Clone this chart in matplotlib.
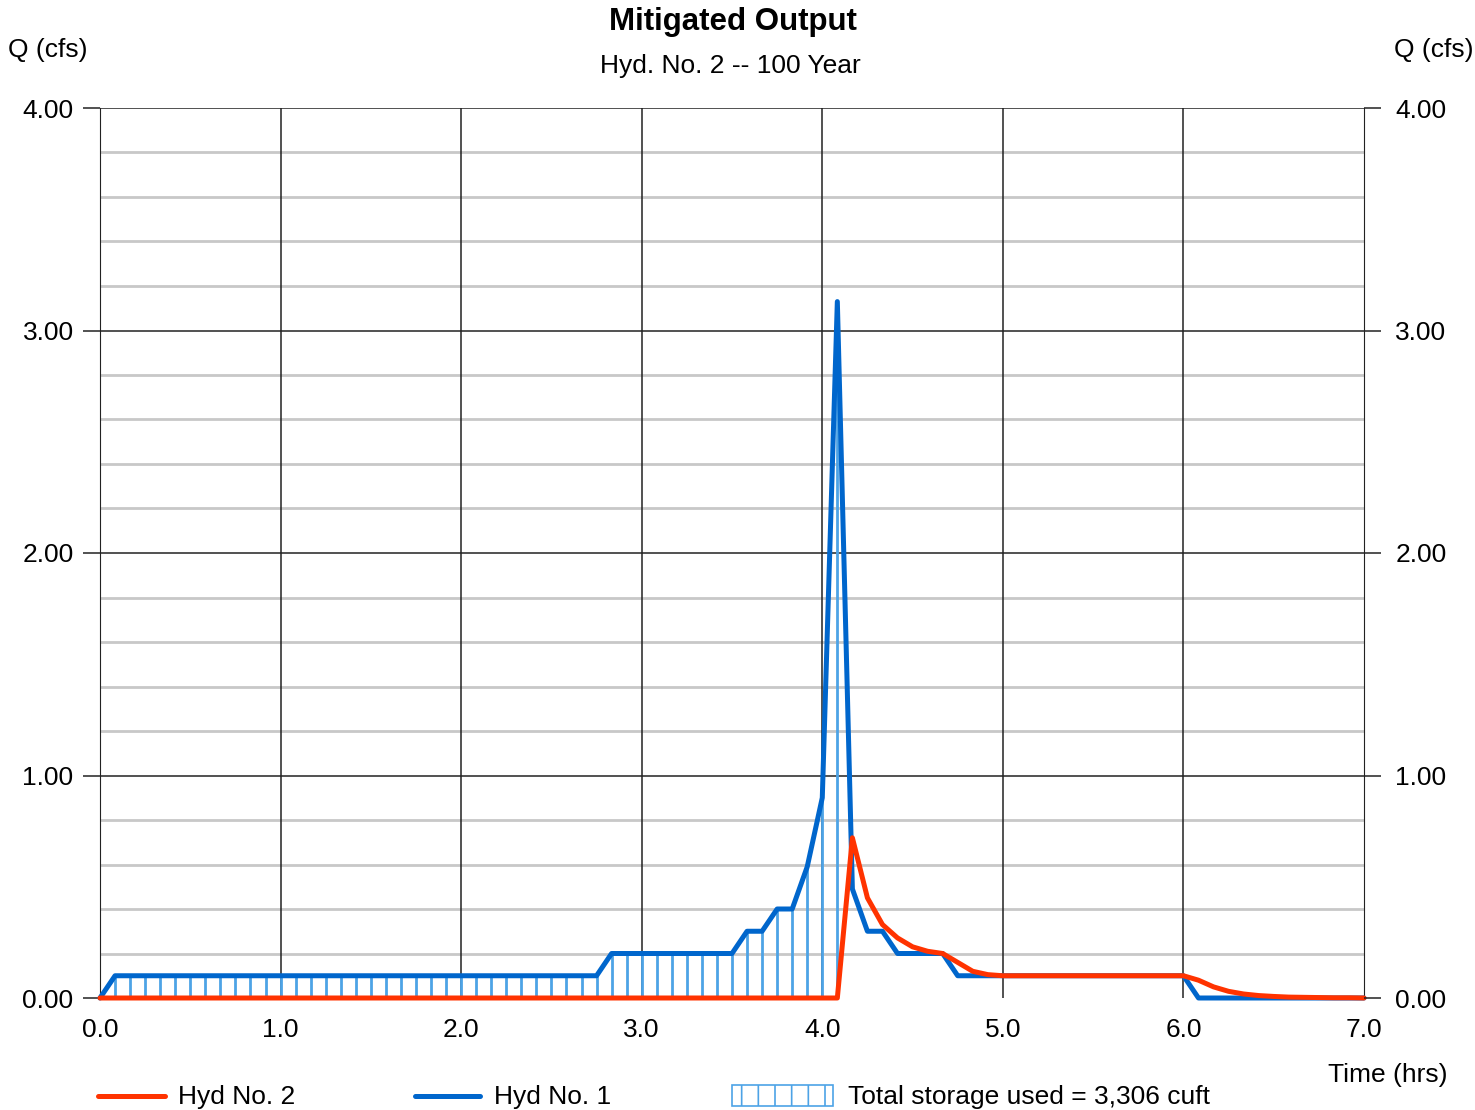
import numpy as np
import matplotlib.pyplot as plt
import matplotlib.patches as patches
from matplotlib.lines import Line2D

plt.rcParams['font.family'] = ['Liberation Sans', 'DejaVu Sans']
plt.rcParams['hatch.linewidth'] = 1.2

# hydrograph ordinates, one every 5 minutes from 0.0 to 7.0 hrs
step_min = 5
hyd1 = [0.00,
        0.10, 0.10, 0.10, 0.10, 0.10, 0.10, 0.10, 0.10, 0.10, 0.10, 0.10,
        0.10, 0.10, 0.10, 0.10, 0.10, 0.10, 0.10, 0.10, 0.10, 0.10, 0.10,
        0.10, 0.10, 0.10, 0.10, 0.10, 0.10, 0.10, 0.10, 0.10, 0.10, 0.10,
        0.20, 0.20, 0.20, 0.20, 0.20, 0.20, 0.20, 0.20, 0.20,
        0.30, 0.30, 0.40, 0.40, 0.59, 0.90, 3.13, 0.49, 0.30, 0.30,
        0.20, 0.20, 0.20, 0.20,
        0.10, 0.10, 0.10, 0.10, 0.10, 0.10, 0.10, 0.10, 0.10, 0.10, 0.10,
        0.10, 0.10, 0.10, 0.10, 0.10,
        0.00, 0.00, 0.00, 0.00, 0.00, 0.00, 0.00, 0.00, 0.00, 0.00, 0.00, 0.00]
hyd2 = [0.00, 0.00, 0.00, 0.00, 0.00, 0.00, 0.00, 0.00, 0.00, 0.00, 0.00,
        0.00, 0.00, 0.00, 0.00, 0.00, 0.00, 0.00, 0.00, 0.00, 0.00, 0.00,
        0.00, 0.00, 0.00, 0.00, 0.00, 0.00, 0.00, 0.00, 0.00, 0.00, 0.00,
        0.00, 0.00, 0.00, 0.00, 0.00, 0.00, 0.00, 0.00, 0.00, 0.00, 0.00,
        0.00, 0.00, 0.00, 0.00, 0.00, 0.00,
        0.72, 0.45, 0.33, 0.27, 0.23, 0.21, 0.20, 0.16, 0.12, 0.105,
        0.10, 0.10, 0.10, 0.10, 0.10, 0.10, 0.10, 0.10, 0.10, 0.10, 0.10,
        0.10, 0.10,
        0.08, 0.05, 0.03, 0.018, 0.011, 0.007, 0.004, 0.003, 0.002, 0.001,
        0.001, 0.000]
storage_label = 'Total storage used = 3,306 cuft'

t = np.arange(len(hyd1)) * step_min / 60.0
q1 = np.array(hyd1)
q2 = np.array(hyd2)

red = '#FF3300'
blue = '#0066CC'
hatch_blue = '#4DA3E6'
fs = 19

fig = plt.figure(figsize=(14.75, 11.1), dpi=100)
ax = fig.add_axes([100/1475, 1 - 998/1110, 1264/1475, 890/1110])

ax.set_xlim(0, 7)
ax.set_ylim(0, 4)

# grid
for y in np.arange(0.2, 4.0, 0.2):
    if abs(y - round(y)) > 1e-6:
        ax.axhline(y, color='#C8C8C8', lw=2, zorder=0)
for y in [1, 2, 3, 4]:
    ax.axhline(y, color='#222222', lw=1.1, zorder=1)
for x in range(1, 7):
    ax.axvline(x, color='#222222', lw=1.1, zorder=1)

# storage hatching: vertical lines between outflow and inflow
store = q1 > q2
store &= t <= t[np.argmax(q1)]
ax.vlines(t[store], q2[store], q1[store], color=hatch_blue, lw=2, zorder=2)

ax.plot(t, q1, color=blue, lw=3.6, zorder=3, solid_capstyle='round', clip_on=False)
ax.plot(t, q2, color=red, lw=3.6, zorder=4, solid_capstyle='round', clip_on=False)

for s in ['top', 'bottom']:
    ax.spines[s].set_visible(False)
ax.spines['left'].set_color('#222222')
ax.spines['right'].set_color('#222222')

yticks = [0, 1, 2, 3, 4]
ylabels = ['%.2f' % y for y in yticks]

ax.set_xticks(range(8))
ax.set_xticklabels(['%.1f' % x for x in range(8)], fontsize=fs)
ax.tick_params(axis='x', length=0, pad=14.5)
ax.set_yticks(yticks)
ax.set_yticklabels(ylabels, fontsize=fs)
ax.tick_params(axis='y', direction='out', length=12, width=1.1, color='#222222',
               pad=7, left=True, right=False)

# right-hand axis labels
ax2 = ax.twinx()
ax2.set_ylim(0, 4)
ax2.set_yticks(yticks)
ax2.set_yticklabels(ylabels, fontsize=fs)
ax2.tick_params(axis='y', direction='out', length=12, width=1.1, color='#222222',
                pad=10.5)
for s in ax2.spines.values():
    s.set_visible(False)

fig.text(733/1475, 1 - 22/1110, 'Mitigated Output', ha='center', va='center',
         fontsize=22.5, fontweight='bold')
fig.text(730/1475, 1 - 66/1110, 'Hyd. No. 2 -- 100 Year', ha='center', va='center',
         fontsize=fs)
fig.text(8/1475, 1 - 50/1110, 'Q (cfs)', ha='left', va='center', fontsize=fs)
fig.text(1473/1475, 1 - 50/1110, 'Q (cfs)', ha='right', va='center', fontsize=fs)
fig.text(1448/1475, 1 - 1075/1110, 'Time (hrs)', ha='right', va='center', fontsize=fs)

# legend row
ly = 1 - 1096/1110
ty = 1 - 1097/1110
fig.add_artist(Line2D([98/1475, 165/1475], [ly, ly], color=red, lw=3.6,
                      solid_capstyle='round'))
fig.text(178/1475, ty, 'Hyd No. 2', va='center', fontsize=fs)
fig.add_artist(Line2D([415/1475, 480/1475], [ly, ly], color=blue, lw=3.6,
                      solid_capstyle='round'))
fig.text(494/1475, ty, 'Hyd No. 1', va='center', fontsize=fs)
fig.add_artist(patches.Rectangle((732/1475, 1 - 1106/1110), 101/1475, 21/1110,
                                 transform=fig.transFigure, facecolor='white',
                                 edgecolor=hatch_blue, hatch='|', lw=1.2))
fig.text(848/1475, ty, storage_label, va='center', fontsize=fs)

fig.savefig('out.png', dpi=100)
